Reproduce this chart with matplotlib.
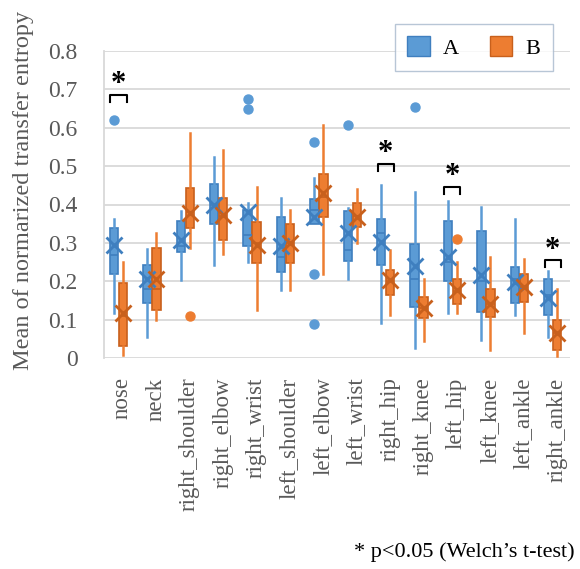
import matplotlib
matplotlib.use('Agg')
import matplotlib.pyplot as plt
from matplotlib.patches import Patch

plt.rcParams['font.family'] = ['Liberation Serif', 'DejaVu Serif']

# --- data ---
categories = ['nose', 'neck', 'right_shoulder', 'right_elbow', 'right_wrist',
              'left_shoulder', 'left_elbow', 'left_wrist', 'right_hip',
              'right_knee', 'left_hip', 'left_knee', 'left_ankle', 'right_ankle']

a_q1 = [0.218, 0.144, 0.277, 0.348, 0.292, 0.225, 0.349, 0.252, 0.242, 0.133, 0.200, 0.120, 0.144, 0.113]
a_med = [0.268, 0.181, 0.292, 0.400, 0.320, 0.264, 0.386, 0.281, 0.326, 0.205, 0.250, 0.200, 0.205, 0.165]
a_q3 = [0.340, 0.242, 0.357, 0.453, 0.386, 0.368, 0.414, 0.383, 0.361, 0.297, 0.358, 0.331, 0.238, 0.207]
a_lo = [0.117, 0.055, 0.203, 0.242, 0.251, 0.177, 0.349, 0.205, 0.090, 0.027, 0.116, 0.046, 0.111, 0.055]
a_hi = [0.362, 0.283, 0.384, 0.525, 0.404, 0.416, 0.468, 0.390, 0.451, 0.433, 0.410, 0.394, 0.361, 0.226]
a_mean = [0.294, 0.205, 0.307, 0.400, 0.380, 0.292, 0.368, 0.326, 0.303, 0.240, 0.264, 0.216, 0.198, 0.157]
a_fliers = [[0.621], [], [], [], [0.675, 0.649], [], [0.564, 0.218, 0.088],
            [0.608], [], [0.653], [], [], [], []]

b_q1 = [0.031, 0.125, 0.338, 0.307, 0.248, 0.248, 0.368, 0.342, 0.165, 0.103, 0.142, 0.107, 0.146, 0.020]
b_med = [0.110, 0.179, 0.380, 0.370, 0.300, 0.300, 0.420, 0.370, 0.200, 0.130, 0.175, 0.140, 0.185, 0.065]
b_q3 = [0.196, 0.286, 0.444, 0.416, 0.355, 0.349, 0.480, 0.405, 0.229, 0.158, 0.205, 0.179, 0.219, 0.098]
b_lo = [0.007, 0.098, 0.286, 0.270, 0.126, 0.177, 0.220, 0.299, 0.111, 0.044, 0.116, 0.020, 0.065, 0.004]
b_hi = [0.251, 0.325, 0.587, 0.542, 0.446, 0.386, 0.606, 0.440, 0.281, 0.205, 0.251, 0.264, 0.257, 0.181]
b_mean = [0.117, 0.205, 0.379, 0.373, 0.294, 0.299, 0.429, 0.368, 0.203, 0.129, 0.177, 0.142, 0.184, 0.064]
b_fliers = [[], [], [0.109], [], [], [], [], [], [], [], [0.310], [], [], []]

# significant pairs: category index -> bracket height
sig_index = [0, 8, 10, 13]
sig_height = [0.686, 0.506, 0.446, 0.255]

blue, blue_dark = '#5B9BD5', '#3F7FBF'
orange, orange_dark = '#ED7D31', '#C8601C'


def make_stats(q1, med, q3, lo, hi, mean, fliers):
    return [dict(q1=q1[i], med=med[i], q3=q3[i], whislo=lo[i], whishi=hi[i],
                 mean=mean[i], fliers=fliers[i]) for i in range(len(q1))]


fig = plt.figure(figsize=(5.8, 5.69), dpi=100)
ax = fig.add_axes([104 / 580, 1 - 358 / 569, 466 / 580, 307 / 569])

pos = list(range(len(categories)))
groups = [(make_stats(a_q1, a_med, a_q3, a_lo, a_hi, a_mean, a_fliers), -0.135, blue, blue_dark),
          (make_stats(b_q1, b_med, b_q3, b_lo, b_hi, b_mean, b_fliers), 0.135, orange, orange_dark)]

for stats, off, col, dark in groups:
    ax.bxp(stats, positions=[p + off for p in pos], widths=0.25,
           patch_artist=True, showmeans=True, showcaps=False,
           boxprops=dict(facecolor=col, edgecolor=dark, linewidth=1.2),
           medianprops=dict(color=dark, linewidth=1.2),
           whiskerprops=dict(color=col, linewidth=1.8),
           meanprops=dict(marker='x', markersize=11, markeredgewidth=2,
                          markeredgecolor=dark),
           flierprops=dict(marker='o', markersize=6.5, markerfacecolor=col,
                           markeredgecolor=col),
           zorder=3)

# significance brackets
for i, h in zip(sig_index, sig_height):
    ax.plot([i - 0.24, i - 0.24, i + 0.24, i + 0.24], [h - 0.018, h, h, h - 0.018],
            color='black', linewidth=1.5, zorder=4)
    ax.text(i, h - 0.012, '*', ha='center', va='bottom', fontsize=22,
            fontweight='bold', color='black')

ax.set_xlim(-0.434, 13.52)
ax.set_ylim(0, 0.8)
ax.set_yticks([0, 0.1, 0.2, 0.3, 0.4, 0.5, 0.6, 0.7, 0.8])
ax.set_yticklabels(['0', '0.1', '0.2', '0.3', '0.4', '0.5', '0.6', '0.7', '0.8'])
ax.set_xticks([p + 0.12 for p in pos])
ax.set_xticklabels(categories, rotation=90)
ax.tick_params(axis='y', length=0, pad=19, labelsize=17, labelcolor='#595959')
ax.tick_params(axis='x', length=0, pad=14, labelsize=16.5, labelcolor='#595959')
ax.yaxis.grid(True, color='#D9D9D9', linewidth=1.3)
ax.set_axisbelow(True)
for s in ['top', 'right', 'bottom']:
    ax.spines[s].set_visible(False)
ax.spines['left'].set_color('#D9D9D9')
ax.spines['left'].set_linewidth(1.3)

fig.text(0.04, 1 - 190 / 569, 'Mean of normarized transfer entropy', rotation=90,
         ha='center', va='center', fontsize=17.5, color='#595959')

handles = [Patch(facecolor=blue, edgecolor=blue_dark, label='A'),
           Patch(facecolor=orange, edgecolor=orange_dark, label='B')]
leg = ax.legend(handles=handles, ncol=2, loc='upper right',
                bbox_to_anchor=(0.963, 1.088), borderaxespad=0,
                fontsize=16, frameon=True, fancybox=False,
                handlelength=1.0, handleheight=1.0, columnspacing=1.4,
                handletextpad=0.6, borderpad=0.55)
leg.get_frame().set_edgecolor('#A6B8CC')
leg.get_frame().set_linewidth(1.0)

fig.text(0.99, 0.03, '* p<0.05 (Welch\u2019s t-test)', ha='right', va='center',
         fontsize=16, color='black')

fig.savefig('out.png', dpi=100)
